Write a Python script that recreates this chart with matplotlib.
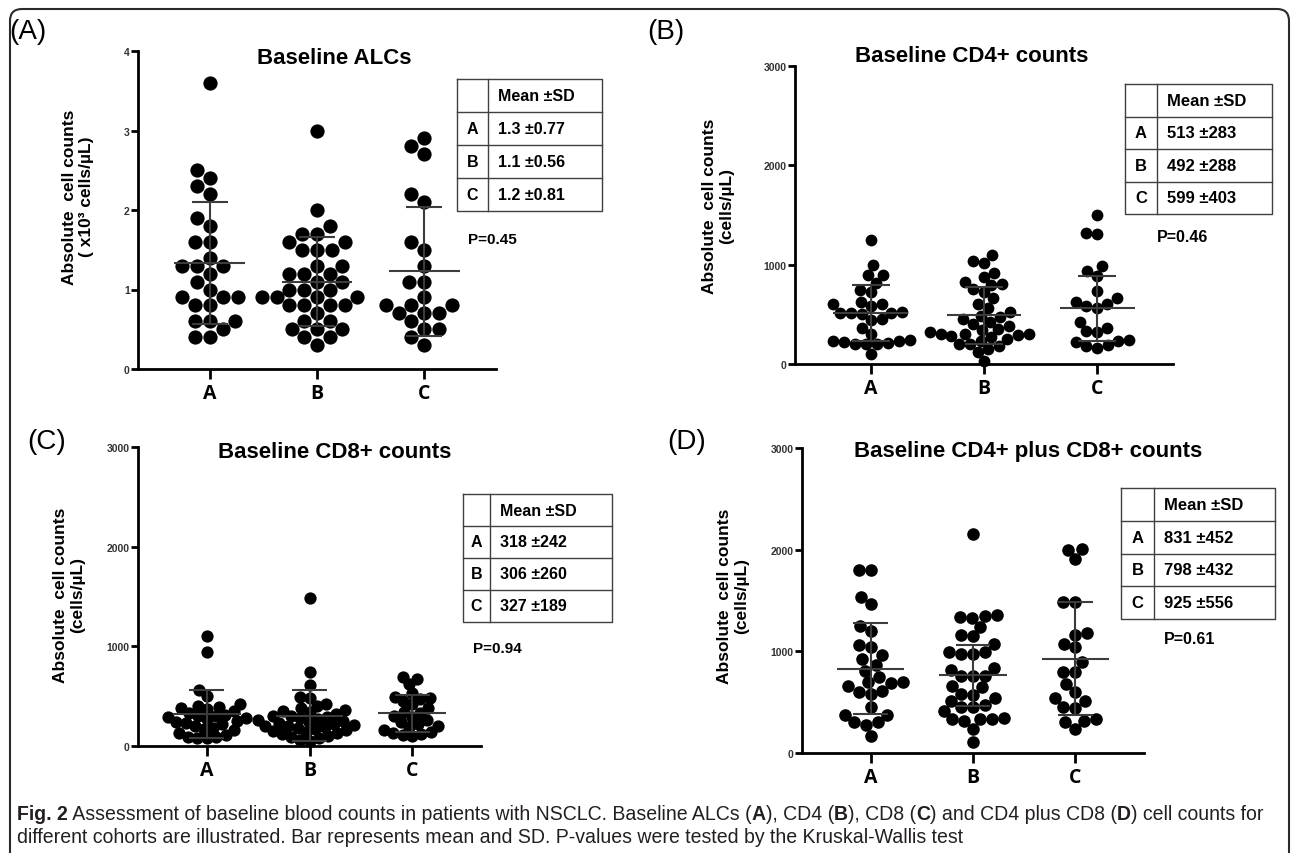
import numpy as np
import matplotlib.pyplot as plt
from matplotlib.patches import FancyBboxPatch
from matplotlib import font_manager as fm

plt.rcParams['font.family'] = ['Liberation Sans', 'DejaVu Sans']


def has_font(name):
    try:
        fm.findfont(fm.FontProperties(family=name), fallback_to_default=False)
        return True
    except Exception:
        return False


NARROW = 'Liberation Sans Narrow' if has_font('Liberation Sans Narrow') else 'Liberation Sans'

W, H = 1292, 854
groups = ['A', 'B', 'C']

# (A) baseline ALCs (x10^3 cells/uL)
alc_a = [3.6, 2.5, 2.4, 2.3, 2.2, 1.9, 1.8, 1.6, 1.6, 1.4, 1.3, 1.3, 1.3, 1.2, 1.1,
         1.0, 0.9, 0.9, 0.9, 0.8, 0.8, 0.6, 0.6, 0.6, 0.5, 0.4, 0.4]
alc_b = [3.0, 2.0, 1.8, 1.7, 1.7, 1.6, 1.6, 1.5, 1.5, 1.5, 1.3, 1.3, 1.2, 1.2, 1.2,
         1.1, 1.1, 1.0, 1.0, 1.0, 0.9, 0.9, 0.9, 0.9, 0.8, 0.8, 0.8, 0.8, 0.7,
         0.6, 0.6, 0.5, 0.5, 0.5, 0.4, 0.4, 0.3]
alc_c = [2.9, 2.8, 2.7, 2.2, 2.1, 1.6, 1.5, 1.3, 1.1, 1.1, 0.9, 0.8, 0.8, 0.8,
         0.7, 0.7, 0.7, 0.6, 0.5, 0.5, 0.4, 0.3]
alc_mean = [1.33, 1.10, 1.23]
alc_sd = [0.77, 0.56, 0.81]
alc_table = ['1.3 ±0.77', '1.1 ±0.56', '1.2 ±0.81']

# (B) baseline CD4+ (cells/uL)
cd4_a = [1250, 1000, 900, 900, 820, 740, 720, 620, 600, 600, 580, 520, 510, 510, 500,
         510, 450, 440, 360, 300, 240, 230, 200, 200, 200, 210, 230, 220, 100]
cd4_b = [1100, 1040, 1020, 920, 880, 830, 810, 800, 760, 720, 660, 600, 560, 520, 480,
         470, 450, 420, 400, 380, 350, 340, 320, 300, 300, 300, 290, 280, 270, 250,
         230, 200, 200, 180, 150, 120, 30]
cd4_c = [1500, 1320, 1310, 990, 940, 890, 730, 660, 620, 600, 580, 560, 420, 360, 330,
         320, 240, 230, 220, 190, 180, 160]
cd4_mean = [513, 492, 560]
cd4_sd = [283, 288, 325]
cd4_table = ['513 ±283', '492 ±288', '599 ±403']

# (C) baseline CD8+ (cells/uL)
cd8_a = [1100, 940, 560, 500, 420, 400, 390, 380, 370, 350, 330, 310, 300, 300, 290,
         280, 270, 250, 240, 230, 220, 200, 180, 170, 160, 130, 110, 90, 90, 80, 80]
cd8_b = [1480, 740, 610, 490, 480, 420, 400, 380, 360, 350, 340, 320, 300, 300, 290,
         280, 270, 260, 250, 240, 230, 220, 210, 200, 200, 190, 180, 170, 160, 150,
         140, 130, 120, 100, 90, 80, 60, 50]
cd8_c = [690, 670, 620, 530, 490, 480, 470, 450, 420, 380, 340, 330, 300, 290, 260,
         240, 220, 200, 190, 160, 140, 130, 120, 110, 100]
cd8_mean = [318, 306, 327]
cd8_sd = [242, 260, 189]
cd8_table = ['318 ±242', '306 ±260', '327 ±189']

# (D) baseline CD4+ plus CD8+ (cells/uL)
sum_a = [1800, 1800, 1530, 1465, 1252, 1203, 1039, 1062, 964, 924, 865, 810, 745, 655,
         695, 702, 688, 596, 612, 580, 449, 377, 377, 302, 279, 302, 170]
sum_b = [2150, 1330, 1350, 1340, 1360, 1242, 1160, 1147, 1072, 973, 990, 990, 973, 832,
         819, 760, 754, 760, 662, 645, 580, 570, 537, 472, 449, 416, 449, 514, 335,
         335, 318, 335, 341, 236, 105]
sum_c = [1997, 2007, 1908, 1481, 1481, 1180, 1160, 1071, 1039, 891, 793, 793, 678, 537,
         449, 514, 603, 439, 334, 302, 318, 236]
sum_mean = [831, 765, 925]
sum_sd = [452, 300, 556]
sum_table = ['831 ±452', '798 ±432', '925 ±556']

p_values = ['P=0.45', 'P=0.46', 'P=0.94', 'P=0.61']
titles = ['Baseline ALCs', 'Baseline CD4+ counts', 'Baseline CD8+ counts',
          'Baseline CD4+ plus CD8+ counts']
tags = ['(A)', '(B)', '(C)', '(D)']
ylabels = ['Absolute  cell counts\n( x10³ cells/µL)'] + ['Absolute  cell counts\n(cells/µL)'] * 3

panels = [
    dict(data=[alc_a, alc_b, alc_c], mean=alc_mean, sd=alc_sd, table=alc_table,
         box=(138, 496, 370, 52), ymax=4, yticks=[0, 1, 2, 3, 4], size=105, gap=15,
         title_xy=(334, 58), ylabel_xy=(78, 197), tag_xy=(9, 32),
         tab=(457, 602, 80, 212, 31), tfont='Liberation Sans', tsize=11.5,
         p_xy=(468, 240), p_ha='left'),
    dict(data=[cd4_a, cd4_b, cd4_c], mean=cd4_mean, sd=cd4_sd, table=cd4_table,
         box=(795, 1173, 365, 67), ymax=3000, yticks=[0, 1000, 2000, 3000], size=72, gap=11,
         title_xy=(972, 57), ylabel_xy=(718, 206), tag_xy=(647, 32),
         tab=(1125, 1272, 85, 215, 32), tfont=NARROW, tsize=12,
         p_xy=(1183, 237), p_ha='center'),
    dict(data=[cd8_a, cd8_b, cd8_c], mean=cd8_mean, sd=cd8_sd, table=cd8_table,
         box=(138, 481, 747, 448), ymax=3000, yticks=[0, 1000, 2000, 3000], size=78, gap=9.5,
         title_xy=(335, 453), ylabel_xy=(69, 595), tag_xy=(27, 442),
         tab=(463, 612, 495, 623, 27), tfont='Liberation Sans', tsize=11.5,
         p_xy=(473, 649), p_ha='left'),
    dict(data=[sum_a, sum_b, sum_c], mean=sum_mean, sd=sum_sd, table=sum_table,
         box=(802, 1144, 754, 449), ymax=3000, yticks=[0, 1000, 2000, 3000], size=82, gap=12,
         title_xy=(1028, 452), ylabel_xy=(733, 596), tag_xy=(667, 442),
         tab=(1121, 1275, 489, 620, 33), tfont=NARROW, tsize=12,
         p_xy=(1190, 640), p_ha='center'),
]


def swarm(vals, d, ppx, ppy):
    vals = np.asarray(vals, float)
    ys = vals * ppy
    px, py = [], []
    offs = np.zeros(len(vals))
    for i in np.argsort(vals):
        y = ys[i]
        cands = [0.0]
        for xo, yo in zip(px, py):
            dy = y - yo
            if abs(dy) < d:
                dx = np.sqrt(d * d - dy * dy)
                cands += [xo + dx, xo - dx]
        cands.sort(key=lambda c: (abs(c), c))
        for c in cands:
            if all((c - xo) ** 2 + (y - yo) ** 2 >= d * d - 1e-6 for xo, yo in zip(px, py)):
                offs[i] = c
                break
        px.append(offs[i])
        py.append(y)
    return offs / ppx


fig = plt.figure(figsize=(W / 100, H / 100), dpi=100)
XL = (-0.67, 2.67)

for k, p in enumerate(panels):
    x0, x1, y0, ytop = p['box']
    ax = fig.add_axes([x0 / W, 1 - y0 / H, (x1 - x0) / W, (y0 - ytop) / H])
    ax.set_xlim(*XL)
    ax.set_ylim(0, p['ymax'])
    ppx = (x1 - x0) / (XL[1] - XL[0])
    ppy = (y0 - ytop) / p['ymax']
    for i, vals in enumerate(p['data']):
        off = swarm(vals, p['gap'], ppx, ppy)
        ax.scatter(i + off, vals, s=p['size'], color='black', linewidths=0,
                   zorder=2, clip_on=False)
        m, s = p['mean'][i], p['sd'][i]
        ax.hlines(m, i - 0.33, i + 0.33, color='#3c3c3c', lw=1.5, zorder=3)
        ax.vlines(i, m - s, m + s, color='#3c3c3c', lw=1.5, zorder=3)
        ax.hlines([m - s, m + s], i - 0.17, i + 0.17, color='#3c3c3c', lw=1.5, zorder=3)
    for side in ['top', 'right']:
        ax.spines[side].set_visible(False)
    for side in ['left', 'bottom']:
        ax.spines[side].set_linewidth(2)
    ax.set_xticks([0, 1, 2])
    ax.set_xticklabels(groups, fontfamily='Open Sans', fontweight='bold', fontsize=14)
    ax.set_yticks(p['yticks'])
    ax.set_yticklabels([str(t) for t in p['yticks']], fontweight='bold', fontsize=7.5,
                       color='#333333')
    ax.tick_params(axis='x', length=7, width=2, pad=3)
    ax.tick_params(axis='y', length=5, width=2, pad=1)
    ax.patch.set_alpha(0)

# overlay in pixel coordinates for texts, tables, frame and caption
ov = fig.add_axes([0, 0, 1, 1])
ov.set_xlim(0, W)
ov.set_ylim(H, 0)
ov.axis('off')

frame = FancyBboxPatch((10, 10), 1279, 900, boxstyle='round,pad=0,rounding_size=12',
                       fill=False, edgecolor='#2b2b2b', lw=1.5)
ov.add_patch(frame)

for k, p in enumerate(panels):
    ov.text(*p['tag_xy'], tags[k], fontsize=20, ha='left', va='center')
    ov.text(*p['title_xy'], titles[k], fontsize=16, fontweight='bold',
            ha='center', va='center')
    ov.text(*p['ylabel_xy'], ylabels[k], fontsize=12.5, fontweight='bold', rotation=90,
            ha='center', va='center', multialignment='center', linespacing=1.15)
    tx0, tx1, ty0, ty1, c1 = p['tab']
    rh = (ty1 - ty0) / 4
    ov.plot([tx0, tx1, tx1, tx0, tx0], [ty0, ty0, ty1, ty1, ty0], color='#404040', lw=1)
    ov.plot([tx0 + c1, tx0 + c1], [ty0, ty1], color='#404040', lw=1)
    for r in range(1, 4):
        ov.plot([tx0, tx1], [ty0 + r * rh, ty0 + r * rh], color='#404040', lw=1)
    rows = [('', 'Mean ±SD')] + list(zip(groups, p['table']))
    for r, (g, v) in enumerate(rows):
        yc = ty0 + (r + 0.5) * rh
        ov.text(tx0 + c1 / 2, yc, g, fontfamily=p['tfont'], fontweight='bold',
                fontsize=p['tsize'], ha='center', va='center')
        ov.text(tx0 + c1 + 10, yc, v, fontfamily=p['tfont'], fontweight='bold',
                fontsize=p['tsize'], ha='left', va='center')
    ov.text(*p['p_xy'], p_values[k], fontfamily=p['tfont'], fontweight='bold',
            fontsize=p['tsize'] - 0.5, ha=p['p_ha'], va='center')

# caption with bold pieces
line1 = [('Fig. 2', 'bold'),
         (' Assessment of baseline blood counts in patients with NSCLC. Baseline ALCs (', 'normal'),
         ('A', 'bold'), ('), CD4 (', 'normal'), ('B', 'bold'), ('), CD8 (', 'normal'),
         ('C', 'bold'), (') and CD4 plus CD8 (', 'normal'), ('D', 'bold'),
         (') cell counts for', 'normal')]
line2 = [('different cohorts are illustrated. Bar represents mean and SD. '
          'P-values were tested by the Kruskal-Wallis test', 'normal')]

rend = fig.canvas.get_renderer()


def seg_width(s, w, size):
    t = ov.text(0, 0, '|' + s + '|', fontsize=size, fontweight=w, fontfamily=NARROW)
    t2 = ov.text(0, 0, '||', fontsize=size, fontweight=w, fontfamily=NARROW)
    wd = t.get_window_extent(rend).width - t2.get_window_extent(rend).width
    t.remove()
    t2.remove()
    return wd


base = 10
total = sum(seg_width(s, w, base) for s, w in line1)
cap_size = base * 1248 / total

for segs, yc in [(line1, 815), (line2, 838)]:
    x = 17
    for s, w in segs:
        ov.text(x, yc, s, fontsize=cap_size, fontweight=w, fontfamily=NARROW,
                ha='left', va='center', color='#231f20')
        x += seg_width(s, w, cap_size)

fig.savefig('out.png', dpi=100)
